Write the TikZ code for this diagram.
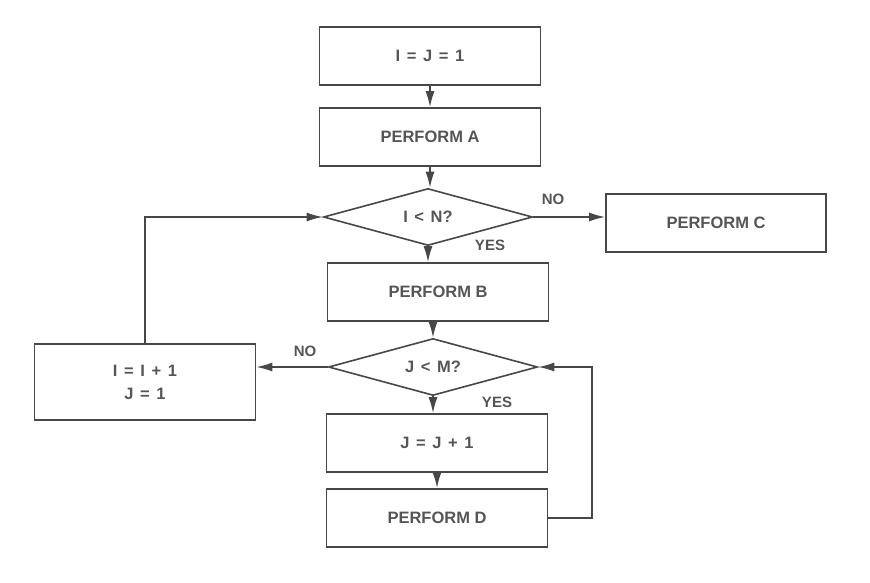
\documentclass[tikz,border=0pt]{standalone}
\usepackage{fontspec}
\setmainfont{Liberation Sans}
\usetikzlibrary{shapes.geometric,arrows.meta}
\definecolor{linegray}{HTML}{474747}
\definecolor{textgray}{HTML}{555555}
\newcommand{\wideop}[1]{\hspace{0.4em}#1\hspace{0.4em}}

\begin{document}
\begin{tikzpicture}[
	x=1pt,
	y=-1pt,
	box/.style={
		rectangle,
		draw=linegray,
		line width=1.6pt,
		align=center,
		text=textgray,
		font=\fontsize{16.5}{23}\selectfont\bfseries,
		minimum height=58pt,
		minimum width=221pt
	},
	test/.style={
		diamond,
		aspect=3.7,
		draw=linegray,
		line width=1.6pt,
		align=center,
		text=textgray,
		font=\fontsize{16.5}{23}\selectfont\bfseries,
		inner sep=0pt,
		minimum height=57pt,
		minimum width=209pt
	},
	answer/.style={
		text=textgray,
		font=\fontsize{15}{18}\selectfont\bfseries
	},
	flow/.style={
		draw=linegray,
		line width=1.6pt,
		-{Latex[length=16pt,width=9pt]}
	},
]

\useasboundingbox (0,0) rectangle (870,583);

\node[box] (init) at (430,56) {I\wideop{=}J\wideop{=}1};
\node[box] (pa) at (430,137) {PERFORM A};
\node[test] (tn) at (428,217) {I\wideop{<}N?};
\node[box, minimum width=220pt] (pc) at (716,223) {PERFORM C};
\node[box] (pb) at (438,292) {PERFORM B};
\node[test] (tm) at (433,367) {J\wideop{<}M?};
\node[box, minimum height=76pt] (inc) at (145,382) {I\wideop{=}I\wideop{+}1\\J\wideop{=}1};
\node[box] (jj) at (437,443) {J\wideop{=}J\wideop{+}1};
\node[box] (pd) at (437,518) {PERFORM D};

\node[answer] (no1) at (553,199) {NO};
\node[answer] (yes1) at (490,245) {YES};
\node[answer] (no2) at (305,351) {NO};
\node[answer] (yes2) at (497,402) {YES};

\draw[flow] (init.south) -- (pa.north);
\draw[flow] (pa.south) -- (pa.south |- tn.north);
\draw[flow] (tn.south) -- (tn.south |- pb.north);
\draw[flow] (tm.north |- pb.south) -- (tm.north);
\draw[flow] (tm.south) -- (tm.south |- jj.north);
\draw[flow] (jj.south) -- (pd.north);

\draw[flow] (tn.east) -- (tn.east -| pc.west);
\draw[flow] (tm.west) -- (tm.west -| inc.east);
\draw[flow] (inc.north) |- (tn.west);

% loop back from D
\coordinate (back) at (592,367);
\draw[flow] (pd.east) -| (back) -- (tm.east);

\end{tikzpicture}
\end{document}
